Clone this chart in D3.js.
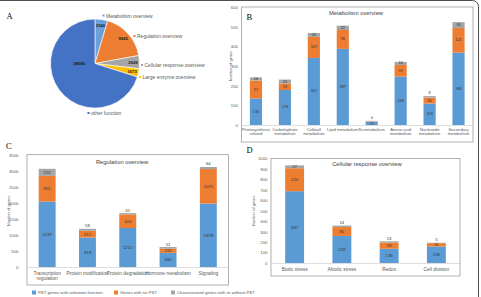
<!DOCTYPE html>
<html>
<head>
<meta charset="utf-8">
<script src="https://cdn.jsdelivr.net/npm/d3@7/dist/d3.min.js"></script>
<style>
  body { margin: 0; background: #fff; }
  svg { display: block; font-family: "Liberation Sans", Arial, sans-serif; }
</style>
</head>
<body>
<div id="chart"></div>
<script>
// ---- A: pie of all genes
const pieCategories = ["Metabolism overview", "Regulation overview", "Cellular response overview", "Large enzyme overview", "other function"];
const pieValues = [2540, 9665, 2628, 1673, 38684];
const pieColors = ["#6b9fd9", "#ed7d31", "#a5a5a5", "#ffc000", "#4472c4"];

// ---- B: metabolism overview
const metabolismCategories = [["Photosynthesis", "related"], ["Carbohydrate", "metabolism"], ["Cellwall", "metabolism"], ["Lipid metabolism"],
  ["N-metabolism"], ["Amino acid", "metabolism"], ["Nucleotide", "metabolism"], ["Secondary", "metabolism"]];
const metabolismUnknown = [135, 178, 341, 387, 15, 246, 109, 368];
const metabolismNoPst = [91, 33, 107, 96, 2, 59, 30, 125];
const metabolismCharacterized = [16, 20, 20, 22, 4, 16, 8, 30];
const metabolismTicks = [0, 100, 200, 300, 400, 500, 600];

// ---- C: regulation overview
const regulationCategories = [["Transcription", "regulation"], ["Protein modification"], ["Protein degradation"], ["Hormone metabolism"], ["Signaling"]];
const regulationUnknown = [2037, 919, 1215, 440, 1978];
const regulationNoPst = [801, 212, 424, 132, 1075];
const regulationCharacterized = [222, 58, 41, 51, 64];
const regulationTicks = [0, 500, 1000, 1500, 2000, 2500, 3000, 3500];

// ---- D: cellular response overview
const responseCategories = [["Biotic stress"], ["Abiotic stress"], ["Redox"], ["Cell division"]];
const responseUnknown = [687, 259, 136, 158];
const responseNoPst = [220, 85, 59, 31];
const responseCharacterized = [27, 14, 13, 5];
const responseTicks = [0, 100, 200, 300, 400, 500, 600, 700, 800, 900, 1000];

const seriesNames = ["PST genes with unknown function", "Genes with no PST", "Characterized genes with or without PST"];
const seriesKeys = ["unknown", "nopst", "char"];
const seriesColors = ["#5b9bd5", "#ed7d31", "#a5a5a5"];

const W = 481, H = 297;
const axisGrey = "#595959";

const svg = d3.select("#chart").append("svg")
  .attr("width", W).attr("height", H);

// outer figure frame (only top and right edge visible)
svg.append("rect")
  .attr("x", -10).attr("y", 0.5).attr("width", 488.5).attr("height", 320)
  .attr("rx", 6).attr("fill", "none").attr("stroke", "#4d4d4d").attr("stroke-width", 1);

// panel letters
const letters = [["A", 6.5, 19], ["B", 246.5, 19.5], ["C", 6, 149], ["D", 246.5, 152.5]];
svg.selectAll(".panelLetter").data(letters).join("text")
  .attr("class", "panelLetter")
  .attr("x", d => d[1]).attr("y", d => d[2])
  .attr("font-family", "'Liberation Serif', 'DejaVu Serif', serif")
  .attr("font-size", 8.5).attr("fill", "#000")
  .text(d => d[0]);

// ================= A: pie =================
const pieCenter = [95, 63.5];
const pieRadius = 44.5;
const pieData = pieCategories.map((c, i) => ({ category: c, value: pieValues[i], color: pieColors[i] }));
const pie = d3.pie().sort(null).value(d => d.value);
const arcs = pie(pieData);
const arc = d3.arc().innerRadius(0).outerRadius(pieRadius);
const labelArc = d3.arc().innerRadius(38).outerRadius(38);

const pieG = svg.append("g").attr("transform", `translate(${pieCenter[0]},${pieCenter[1]})`);
pieG.selectAll("path").data(arcs).join("path")
  .attr("d", arc)
  .attr("fill", d => d.data.color)
  .attr("stroke", "#fff").attr("stroke-width", 0.6);

// value labels
pieG.selectAll(".pieValue").data(arcs).join("text")
  .attr("class", "pieValue")
  .attr("transform", (d, i) => {
    const p = i === arcs.length - 1 ? d3.pointRadial(Math.PI * 1.5, 16) : labelArc.centroid(d);
    return `translate(${p[0]},${p[1]})`;
  })
  .attr("text-anchor", "middle").attr("dominant-baseline", "central")
  .attr("font-size", 4.2).attr("font-weight", "bold").attr("fill", "#1a1a1a")
  .text(d => d.data.value);

// category labels (Excel puts them outside the pie)
const pieLabelAnchors = [[103.5, 15.5], [134.5, 36], [142, 65], [140, 77], [88.5, 113]];
const pieLabels = svg.selectAll(".pieLabel").data(pieData).join("g")
  .attr("class", "pieLabel")
  .attr("transform", (d, i) => `translate(${pieLabelAnchors[i][0]},${pieLabelAnchors[i][1]})`);
pieLabels.append("rect")
  .attr("x", -1).attr("y", -1).attr("width", 2).attr("height", 2)
  .attr("fill", d => d.color);
pieLabels.append("text")
  .attr("x", 2.5).attr("dominant-baseline", "central")
  .attr("font-size", 5).attr("fill", axisGrey)
  .text(d => d.category);

// ================= stacked bar panels =================
function drawStacked(cfg) {
  const rows = cfg.categories.map((c, i) => ({
    name: c.join(" "), lines: c,
    unknown: cfg.unknown[i], nopst: cfg.nopst[i], char: cfg.char[i]
  }));
  const x = d3.scaleBand().domain(rows.map(r => r.name)).range(cfg.xRange).padding(0);
  const y = d3.scaleLinear().domain([0, d3.max(cfg.ticks)]).range(cfg.yRange);
  const barW = x.step() * cfg.barRatio;
  const stacked = d3.stack().keys(seriesKeys)(rows);

  const g = svg.append("g");

  // plot frame
  g.append("rect")
    .attr("x", cfg.xRange[0]).attr("y", cfg.yRange[1])
    .attr("width", cfg.xRange[1] - cfg.xRange[0]).attr("height", cfg.boxBottom - cfg.yRange[1])
    .attr("fill", "none").attr("stroke", "#8f8f8f").attr("stroke-width", 0.7);

  // y axis
  const yAxis = g.append("g")
    .attr("transform", `translate(${cfg.xRange[0]},0)`)
    .call(d3.axisLeft(y).tickValues(cfg.ticks).tickFormat(d3.format("d")).tickSize(0).tickPadding(cfg.tickPadding));
  yAxis.select(".domain").remove();
  yAxis.selectAll("text").attr("font-size", 4.3).attr("fill", axisGrey).attr("font-family", null);

  // baseline
  const xAxis = g.append("g")
    .attr("transform", `translate(0,${y(0)})`)
    .call(d3.axisBottom(x).tickSize(0).tickFormat(""));
  xAxis.select(".domain").attr("stroke", "#c8c8c8").attr("stroke-width", 0.6);

  // category labels
  const catG = g.selectAll(".cat").data(rows).join("text")
    .attr("class", "cat")
    .attr("x", d => x(d.name) + x.bandwidth() / 2)
    .attr("y", cfg.catY)
    .attr("text-anchor", "middle")
    .attr("font-size", cfg.catSize).attr("fill", axisGrey);
  catG.selectAll("tspan").data(d => d.lines).join("tspan")
    .attr("x", function() { return d3.select(this.parentNode).attr("x"); })
    .attr("dy", (d, i) => i === 0 ? 0 : cfg.catSize * 1.15)
    .text(d => d);

  // y title
  g.append("text")
    .attr("transform", `translate(${cfg.yTitleX},${(cfg.yRange[0] + cfg.yRange[1]) / 2}) rotate(-90)`)
    .attr("text-anchor", "middle").attr("font-size", 4).attr("fill", axisGrey)
    .text("Number of genes");

  // title
  g.append("text")
    .attr("x", cfg.titleX).attr("y", cfg.titleY)
    .attr("text-anchor", "middle").attr("font-size", 5.8).attr("fill", "#404040")
    .text(cfg.title);

  // bars
  const layers = g.selectAll(".layer").data(stacked).join("g")
    .attr("class", "layer")
    .attr("fill", (d, i) => seriesColors[i]);
  layers.selectAll("rect").data(d => d).join("rect")
    .attr("x", d => x(d.data.name) + (x.bandwidth() - barW) / 2)
    .attr("y", d => y(d[1]))
    .attr("width", barW)
    .attr("height", d => y(d[0]) - y(d[1]));

  // segment labels
  stacked.forEach((layer, li) => {
    g.selectAll(".lbl" + li).data(layer).join("text")
      .attr("class", "lbl" + li)
      .filter(d => !(li === 1 && y(d[0]) - y(d[1]) < 1))
      .attr("x", d => x(d.data.name) + x.bandwidth() / 2)
      .attr("y", d => {
        const h = y(d[0]) - y(d[1]);
        if (h < 2.5 && li === 2) return y(d[1]) - 3;
        return (y(d[0]) + y(d[1])) / 2;
      })
      .attr("text-anchor", "middle").attr("dominant-baseline", "central")
      .attr("font-size", cfg.valueSize).attr("fill", "#333")
      .text(d => d[1] - d[0]);
  });
  return g;
}

drawStacked({
  categories: metabolismCategories, unknown: metabolismUnknown, nopst: metabolismNoPst, char: metabolismCharacterized,
  ticks: metabolismTicks, xRange: [241.5, 473], yRange: [125, 7], boxBottom: 142, barRatio: 0.42,
  tickPadding: 3.5, yTitleX: 232, catY: 130.5, catSize: 4.2, valueSize: 3.8,
  title: "Metabolism overview", titleX: 356, titleY: 14.5
});

drawStacked({
  categories: regulationCategories, unknown: regulationUnknown, nopst: regulationNoPst, char: regulationCharacterized,
  ticks: regulationTicks, xRange: [27, 228.5], yRange: [267, 154.7], boxBottom: 285, barRatio: 0.42,
  tickPadding: 8.5, yTitleX: 10, catY: 274.5, catSize: 4.8, valueSize: 4.3,
  title: "Regulation overview", titleX: 122, titleY: 164
});

drawStacked({
  categories: responseCategories, unknown: responseUnknown, nopst: responseNoPst, char: responseCharacterized,
  ticks: responseTicks, xRange: [271, 460], yRange: [263, 158.5], boxBottom: 276, barRatio: 0.4,
  tickPadding: 3.5, yTitleX: 255, catY: 270.5, catSize: 4.8, valueSize: 4.3,
  title: "Cellular response overview", titleX: 367, titleY: 166
});

// legend under C
const legendX = [32, 114, 171];
const legend = svg.selectAll(".legendItem").data(seriesNames).join("g")
  .attr("class", "legendItem")
  .attr("transform", (d, i) => `translate(${legendX[i]},292.5)`);
legend.append("rect")
  .attr("x", 0).attr("y", -2).attr("width", 4).attr("height", 4)
  .attr("fill", (d, i) => seriesColors[i]);
legend.append("text")
  .attr("x", 6).attr("dominant-baseline", "central")
  .attr("font-size", 4.3).attr("fill", axisGrey)
  .text(d => d);
</script>
</body>
</html>
